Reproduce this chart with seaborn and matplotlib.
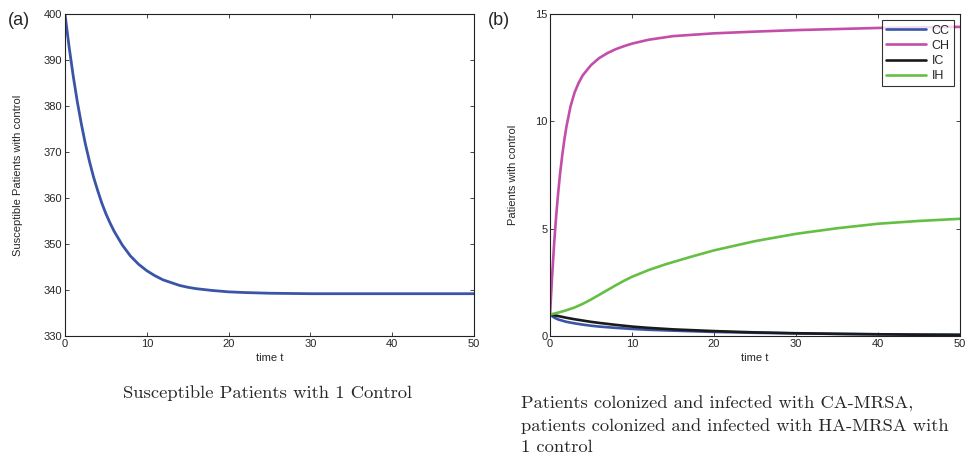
import matplotlib
matplotlib.use("Agg")
import matplotlib.pyplot as plt
import seaborn as sns
import pandas as pd

# ---- data ----
t_a = [0, 0.5, 1, 1.5, 2, 2.5, 3, 3.5, 4, 4.5, 5, 5.5, 6, 7, 8, 9, 10, 11, 12, 13, 14, 15,
       16, 18, 20, 22, 25, 30, 40, 50]
S = [400, 392.9, 386.6, 381.0, 376.1, 371.7, 367.9, 364.5, 361.6, 358.9, 356.6, 354.6,
     352.8, 349.8, 347.4, 345.6, 344.2, 343.1, 342.2, 341.6, 341.0, 340.6, 340.3, 339.9,
     339.6, 339.45, 339.3, 339.2, 339.2, 339.2]

t_ch = [0, 0.25, 0.5, 0.75, 1, 1.25, 1.5, 1.75, 2, 2.5, 3, 3.5, 4, 5, 6, 7, 8, 9, 10, 12,
        15, 20, 25, 30, 35, 40, 45, 50]
CH = [1.0, 2.75, 4.3, 5.6, 6.7, 7.65, 8.45, 9.15, 9.75, 10.7, 11.35, 11.8, 12.15, 12.62,
      12.95, 13.18, 13.36, 13.5, 13.62, 13.8, 13.97, 14.1, 14.18, 14.25, 14.3, 14.35,
      14.38, 14.4]

t_low = [0, 0.5, 1, 2, 3, 4, 5, 6, 8, 10, 12, 15, 20, 25, 30, 35, 40, 45, 50]
CC = [1.0, 0.86, 0.77, 0.66, 0.59, 0.53, 0.48, 0.44, 0.38, 0.33, 0.29, 0.25, 0.19, 0.15,
      0.12, 0.10, 0.08, 0.07, 0.06]
IC = [1.0, 0.97, 0.93, 0.85, 0.78, 0.72, 0.66, 0.61, 0.52, 0.44, 0.38, 0.31, 0.23, 0.17,
      0.13, 0.10, 0.08, 0.06, 0.05]

t_ih = [0, 1, 2, 3, 4, 5, 6, 7, 8, 9, 10, 12, 14, 17, 20, 25, 30, 35, 40, 45, 50]
IH = [1.0, 1.09, 1.2, 1.33, 1.5, 1.7, 1.92, 2.14, 2.36, 2.57, 2.76, 3.07, 3.33, 3.67,
      3.99, 4.42, 4.76, 5.02, 5.23, 5.36, 5.46]

series_names = ["CC", "CH", "IC", "IH"]
colors = ["#3a54a8", "#c24ea9", "#1a1a1a", "#66bf45"]

sns.set_style("ticks")
plt.rcParams['font.family'] = ['Liberation Sans', 'DejaVu Sans']
plt.rcParams['xtick.direction'] = 'in'
plt.rcParams['ytick.direction'] = 'in'

fig = plt.figure(figsize=(9.67, 4.55), dpi=100)
ax1 = fig.add_axes([0.0672, 0.2615, 0.423, 0.7077])
ax2 = fig.add_axes([0.5688, 0.2615, 0.424, 0.7077])

dfa = pd.DataFrame({"t": t_a, "S": S})
sns.lineplot(data=dfa, x="t", y="S", ax=ax1, color="#3a54a8", linewidth=2.0)

frames = []
for name, tt, vals in [("CC", t_low, CC), ("CH", t_ch, CH), ("IC", t_low, IC), ("IH", t_ih, IH)]:
    frames.append(pd.DataFrame({"t": tt, "value": vals, "series": name}))
dfb = pd.concat(frames, ignore_index=True)
sns.lineplot(data=dfb, x="t", y="value", hue="series", hue_order=series_names,
             palette=colors, ax=ax2, linewidth=1.9)

ax1.set_xlim(0, 50)
ax1.set_ylim(330, 400)
ax1.set_xticks([0, 10, 20, 30, 40, 50])
ax1.set_yticks(range(330, 401, 10))
ax1.set_xlabel("time t", fontsize=8, labelpad=3)
ax1.set_ylabel("Susceptible Patients with control", fontsize=8, labelpad=15)

ax2.set_xlim(0, 50)
ax2.set_ylim(0, 15)
ax2.set_xticks([0, 10, 20, 30, 40, 50])
ax2.set_yticks([0, 5, 10, 15])
ax2.set_xlabel("time t", fontsize=8, labelpad=3)
ax2.set_ylabel("Patients with control", fontsize=8, labelpad=12)

for ax in (ax1, ax2):
    ax.tick_params(axis='both', labelsize=8, top=True, right=True, length=3, width=0.6, pad=2)
    for sp in ax.spines.values():
        sp.set_visible(True)
        sp.set_linewidth(0.8)
        sp.set_color("#222222")

leg = ax2.legend(loc="upper right", fontsize=9, frameon=True, fancybox=False,
                 edgecolor="black", borderpad=0.35, labelspacing=0.25, handlelength=3.2,
                 handletextpad=0.4, borderaxespad=0.5)
leg.get_frame().set_linewidth(0.8)

fig.text(0.008, 0.955, "(a)", fontsize=13, ha="left", va="center")
fig.text(0.505, 0.955, "(b)", fontsize=13, ha="left", va="center")

fig.text(268 / 967, 1 - 393 / 455, "Susceptible Patients with 1 Control",
         family="cmr10", fontsize=13.4, ha="center", va="center")
fig.text(521 / 967, 1 - 396 / 455,
         "Patients colonized and infected with CA-MRSA,\npatients colonized and infected with HA-MRSA with\n1 control",
         family="cmr10", fontsize=13.3, ha="left", va="top", linespacing=1.45)

fig.savefig("out.png", dpi=100)
